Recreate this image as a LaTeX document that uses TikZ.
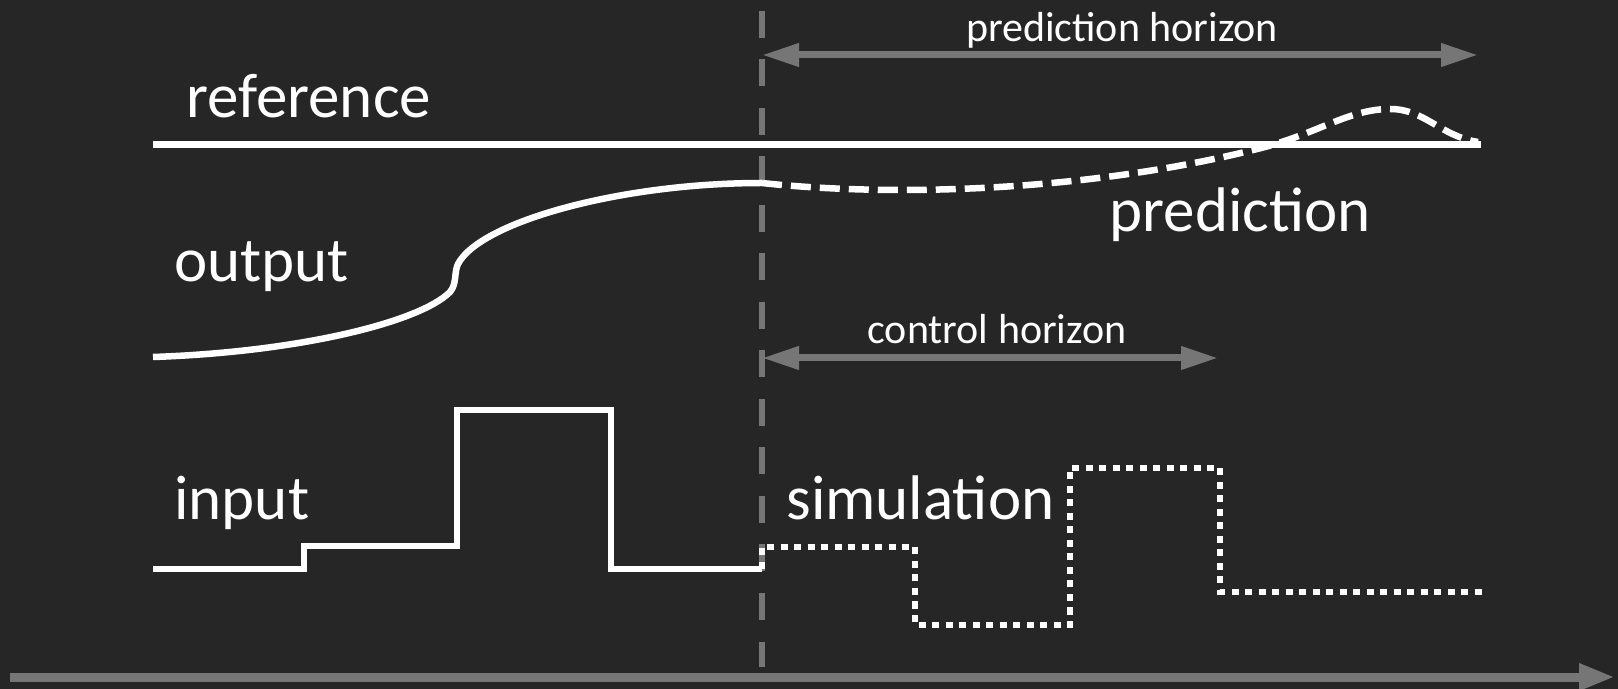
\documentclass[tikz,border=0pt]{standalone}
\usepackage{fontspec}
\setmainfont{Carlito}
\usetikzlibrary{arrows.meta}
\definecolor{bg}{HTML}{262626}
\definecolor{guide}{HTML}{767676}
\begin{document}
\begin{tikzpicture}[x=0.5pt,y=-0.5pt,
  signal/.style={draw=white, line width=3.25pt},
  predicted/.style={draw=white, line width=3.25pt, dash pattern=on 10pt off 4.5pt},
  simulated/.style={draw=white, line width=2.75pt, dash pattern=on 3.5pt off 3.25pt},
  nowline/.style={draw=guide, line width=2.75pt, dash pattern=on 13.5pt off 10.75pt},
  span/.style={draw=guide, line width=3.5pt,
    {Triangle[length=18.5pt,width=11pt]}-{Triangle[length=18.5pt,width=11pt]}},
  timeaxis/.style={draw=guide, line width=4.5pt, -{Triangle[length=18pt,width=12.5pt]}},
  biglabel/.style={text=white, font=\fontsize{31.5}{36}\selectfont, inner sep=0pt, anchor=base west},
  smalllabel/.style={text=white, font=\fontsize{21}{24}\selectfont, inner sep=0pt, anchor=base},
]
\fill[bg] (0,0) rectangle (1618,689);
\useasboundingbox (0,0) rectangle (1618,689);

% the present instant
\coordinate (nowtop) at (762,11);
\coordinate (nowbot) at (762,667);
\draw[nowline] (nowtop) -- (nowbot);

% time axis
\coordinate (tstart) at (10,677);
\coordinate (tend) at (1615,677);
\draw[timeaxis] (tstart) -- (tend);

% horizons
\coordinate (ph0) at (762,55);
\coordinate (ph1) at (1478,55);
\draw[span] (ph0) -- (ph1);
\node[smalllabel] (phlabel) at (1122,42) {prediction horizon};

\coordinate (ch0) at (762,358);
\coordinate (ch1) at (1218,358);
\draw[span] (ch0) -- (ch1);
\node[smalllabel] (chlabel) at (997,344) {control horizon};

% reference
\coordinate (ref0) at (153,144.5);
\coordinate (ref1) at (1481,144.5);
\draw[signal] (ref0) -- (ref1);
\node[biglabel] (reflabel) at (186,118) {reference};

% measured output
\coordinate (out0) at (153,357);
\coordinate (outnow) at (762,183);
\draw[signal] (out0) .. controls (300,352) and (420,322) .. (450,292)
  .. controls (457,284) and (454,272) .. (458,264)
  .. controls (480,222) and (620,183) .. (outnow);
\node[biglabel] (outlabel) at (174,282) {output};

% predicted output
\coordinate (predend) at (1478,142);
\draw[predicted] (outnow) .. controls (900,198) and (1100,190) .. (1265,147)
  .. controls (1320,132) and (1350,109) .. (1390,109)
  .. controls (1425,109) and (1440,136) .. (predend);
\node[biglabel] (predlabel) at (1109,232) {prediction};

% past input
\coordinate (in0) at (153,569);
\coordinate (innow) at (762,569);
\draw[signal] (in0) -| (304,546) -| (457,410) -| (611,569) -- (innow);
\node[biglabel] (inlabel) at (174,520) {input};

% simulated future input
\coordinate (simend) at (1482,592);
\draw[simulated] (innow) -- (762,547) -| (915,625) -| (1070,468) -| (1220,592) -- (simend);
\node[biglabel] (simlabel) at (786,520) {simulation};
\end{tikzpicture}
\end{document}
